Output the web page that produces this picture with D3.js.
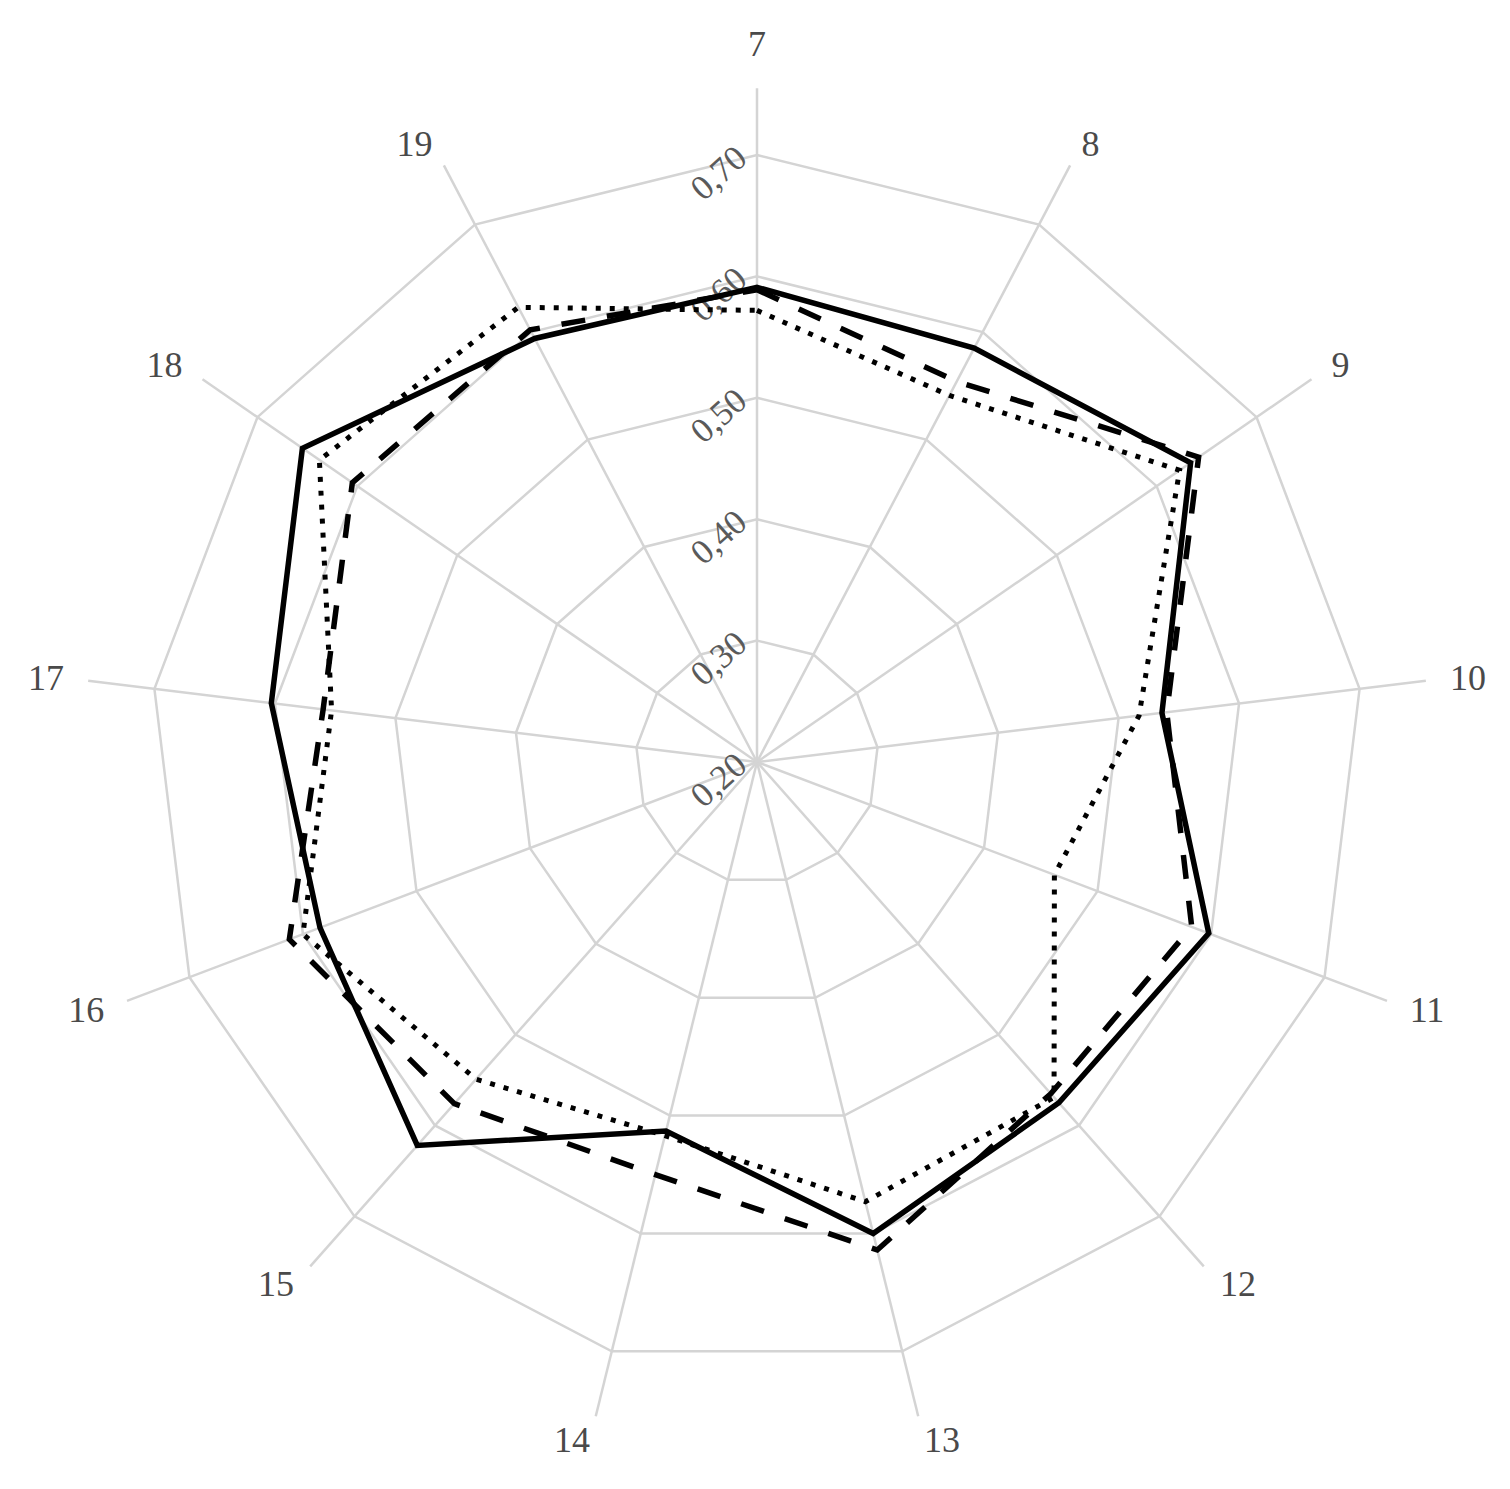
<!DOCTYPE html>
<html>
<head>
<meta charset="utf-8">
<script src="https://cdn.jsdelivr.net/npm/d3@7"></script>
<style>
  body { margin: 0; background: #fff; }
  svg { display: block; }
</style>
</head>
<body>
<svg id="chart" width="1510" height="1489"></svg>
<script>
var categories = ['7', '8', '9', '10', '11', '12', '13', '14', '15', '16', '17', '18', '19'];
var solidValues = [0.591, 0.585, 0.634, 0.536, 0.598, 0.575, 0.600, 0.513, 0.622, 0.585, 0.603, 0.655, 0.594];
var dashedValues = [0.589, 0.554, 0.642, 0.540, 0.583, 0.565, 0.614, 0.550, 0.576, 0.612, 0.560, 0.605, 0.602];
var dottedValues = [0.572, 0.541, 0.623, 0.517, 0.462, 0.569, 0.573, 0.517, 0.549, 0.600, 0.553, 0.638, 0.623];
var tickValues = [0.2, 0.3, 0.4, 0.5, 0.6, 0.7];
var tickLabels = ['0,20', '0,30', '0,40', '0,50', '0,60', '0,70'];

var cx = 757, cy = 762;
var svg = d3.select('#chart');
var g = svg.append('g').attr('transform', 'translate(' + cx + ',' + cy + ')');

var r = d3.scaleLinear().domain([0.2, 0.7]).range([0, 607]);
var angle = d3.scaleLinear().domain([0, categories.length]).range([0, 2 * Math.PI]);

function pt (i, v) {
  var a = angle(i);
  return [Math.sin(a) * r(v), -Math.cos(a) * r(v)];
}

// rings
var ring = d3.line();
g.selectAll('path.ring')
  .data(tickValues.slice(1))
  .enter().append('path')
    .attr('class', 'ring')
    .attr('d', v => ring(categories.map((c, i) => pt(i, v))) + 'Z')
    .attr('fill', 'none')
    .attr('stroke', '#d4d4d4')
    .attr('stroke-width', 2.5);

// spokes
g.selectAll('line.spoke')
  .data(categories)
  .enter().append('line')
    .attr('class', 'spoke')
    .attr('x1', 0).attr('y1', 0)
    .attr('x2', (d, i) => pt(i, 0.755)[0])
    .attr('y2', (d, i) => pt(i, 0.755)[1])
    .attr('stroke', '#d4d4d4')
    .attr('stroke-width', 2.5);

// tick labels along first spoke
g.selectAll('text.tick')
  .data(tickValues)
  .enter().append('text')
    .attr('class', 'tick')
    .attr('transform', v => 'translate(-8,' + (-r(v) + 6) + ') rotate(-42)')
    .attr('text-anchor', 'end')
    .attr('font-family', 'Liberation Serif, serif')
    .attr('font-size', 35)
    .attr('fill', '#5a5a5a')
    .text((v, i) => tickLabels[i]);

// category labels
g.selectAll('text.cat')
  .data(categories)
  .enter().append('text')
    .attr('class', 'cat')
    .each(function (d, i) {
      var a = angle(i);
      var s = Math.sin(a), c = Math.cos(a);
      var p = pt(i, 0.775);
      var anchor = Math.abs(s) < 0.01 ? 'middle' : (s > 0 ? 'start' : 'end');
      var dy = c > 0.99 ? -20 : 0;
      d3.select(this)
        .attr('x', p[0]).attr('y', p[1] + dy)
        .attr('text-anchor', anchor)
        .attr('dominant-baseline', 'central');
    })
    .attr('font-family', 'Liberation Serif, serif')
    .attr('font-size', 36)
    .attr('fill', '#4a4a4a')
    .text(d => d);

// series
var series = [
  { values: dottedValues, dash: '5,9', width: 5 },
  { values: dashedValues, dash: '24,22', width: 5.5 },
  { values: solidValues, dash: null, width: 5.5 }
];

var line = d3.line();
g.selectAll('path.series')
  .data(series)
  .enter().append('path')
    .attr('class', 'series')
    .attr('d', s => line(s.values.map((v, i) => pt(i, v))) + 'Z')
    .attr('fill', 'none')
    .attr('stroke', '#000')
    .attr('stroke-width', s => s.width)
    .attr('stroke-dasharray', s => s.dash)
    .attr('stroke-linejoin', 'miter');
</script>
</body>
</html>
